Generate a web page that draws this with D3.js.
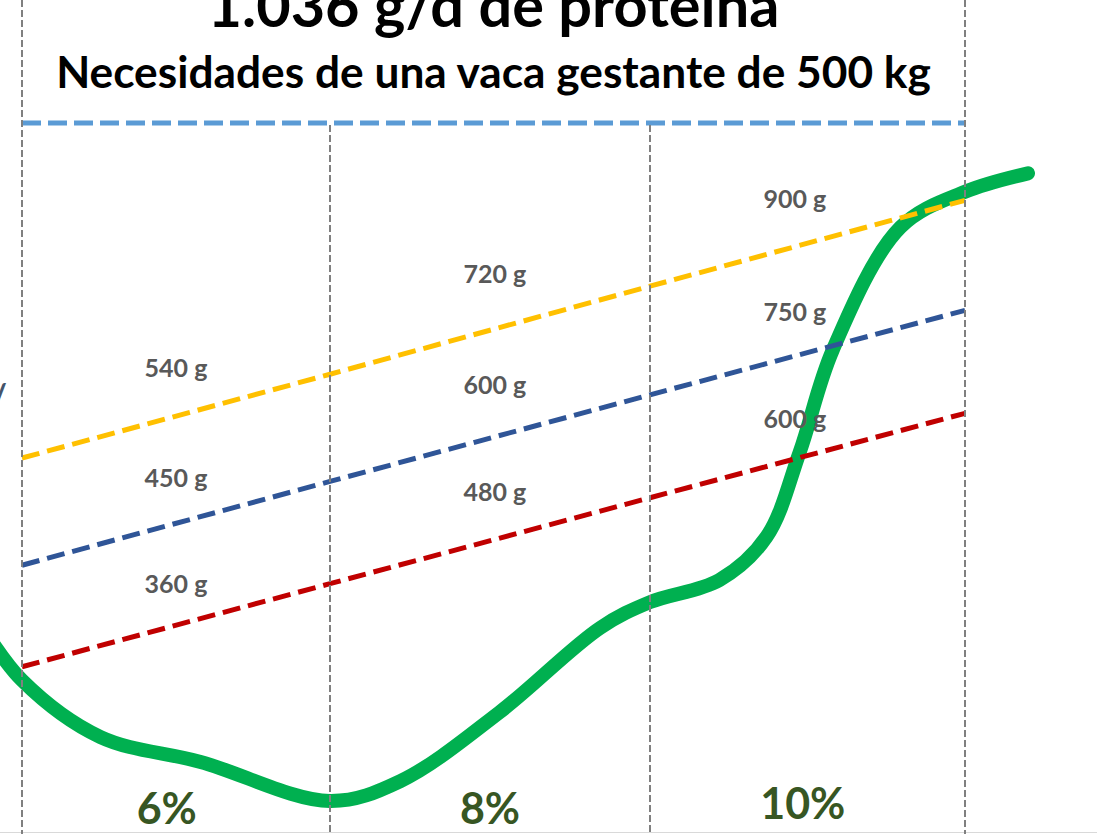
<!DOCTYPE html>
<html lang="es">
<head>
<meta charset="UTF-8">
<title>Necesidades de proteína</title>
<script src="https://d3js.org/d3.v7.min.js"></script>
<style>
  html, body { margin: 0; padding: 0; background: #fff; }
  svg { display: block; font-family: Lato, "Open Sans", sans-serif; }
</style>
</head>
<body>
<div id="chart"></div>
<script>
// protein % bands (boundaries) and their labels
var pctBounds = [5, 7, 9, 11];
var pctMid = [5.94, 8.0, 9.97];
var pctLabels = ["6%", "8%", "10%"];
var valueLabelPct = [6.0, 8.03, 9.92];

// requirement line (g/d)
var requirement = 1010;

// supply lines, g/d at each band boundary
var yellowVals = [538, 656, 780, 901];
var blueVals = [387, 505, 627, 746];
var redVals = [244, 361, 482, 601];
var yellowLabels = ["540 g", "720 g", "900 g"];
var blueLabels = ["450 g", "600 g", "750 g"];
var redLabels = ["360 g", "480 g", "600 g"];

// green curve
var curvePct = [4.73, 5.0, 5.51, 6.16, 7.0, 7.44, 8.06, 8.69, 9.0, 9.44, 9.74, 9.95, 10.16, 10.59, 11.0, 11.4];
var curveG = [304, 225, 145, 110, 55, 83, 180, 299, 335, 366, 427, 546, 690, 863, 913, 939];

var W = 1102, H = 834;

var svg = d3.select("#chart").append("svg")
    .attr("width", W)
    .attr("height", H);

var x = d3.scaleLinear().domain(pctBounds).range([22, 330, 650, 965]);
var y = d3.scaleLinear().domain([0, 1000]).range([840, 130]);

// bottom baseline
svg.append("line")
    .attr("x1", 0).attr("x2", 1097)
    .attr("y1", 832.5).attr("y2", 832.5)
    .style("stroke", "#d9d9d9")
    .style("stroke-width", 1);

// green curve
var line = d3.line()
    .x(function(d) { return x(d[0]); })
    .y(function(d) { return y(d[1]); })
    .curve(d3.curveCatmullRom.alpha(0.5));

svg.append("path")
    .datum(d3.zip(curvePct, curveG))
    .attr("d", line)
    .style("fill", "none")
    .style("stroke", "#00b050")
    .style("stroke-width", 14)
    .style("stroke-linecap", "round");

// supply lines
var series = [
    { vals: yellowVals, labels: yellowLabels, color: "#ffc000", lift: 3 },
    { vals: blueVals, labels: blueLabels, color: "#2f5597", lift: 0 },
    { vals: redVals, labels: redLabels, color: "#c00000", lift: -4 }
];
var colLift = [36, 44, 32];

var straight = d3.line()
    .x(function(d) { return x(d[0]); })
    .y(function(d) { return y(d[1]); });

series.forEach(function(s) {
    svg.append("path")
        .datum(d3.zip(pctBounds, s.vals))
        .attr("d", straight)
        .style("fill", "none")
        .style("stroke", s.color)
        .style("stroke-width", 5)
        .style("stroke-dasharray", "18,8");

    s.labels.forEach(function(t, i) {
        var mid = (s.vals[i] + s.vals[i + 1]) / 2;
        svg.append("text")
            .attr("x", x(valueLabelPct[i]))
            .attr("y", y(mid) - colLift[i] - s.lift)
            .attr("text-anchor", "middle")
            .style("font-size", "25px")
            .style("font-weight", "bold")
            .style("fill", "#595959")
            .text(t);
    });
});

// requirement line
svg.append("line")
    .attr("x1", x(pctBounds[0])).attr("x2", x(pctBounds[3]))
    .attr("y1", y(requirement)).attr("y2", y(requirement))
    .style("stroke", "#5b9bd5")
    .style("stroke-width", 5)
    .style("stroke-dasharray", "19,7");

// band boundaries
pctBounds.forEach(function(p, i) {
    var outer = (i === 0 || i === pctBounds.length - 1);
    svg.append("line")
        .attr("x1", x(p)).attr("x2", x(p))
        .attr("y1", outer ? 0 : y(requirement) + 2)
        .attr("y2", H)
        .style("stroke", "#808080")
        .style("stroke-width", 2)
        .style("stroke-dasharray", "7,3");
});

// band labels
pctLabels.forEach(function(t, i) {
    svg.append("text")
        .attr("x", x(pctMid[i]))
        .attr("y", i === 2 ? 819 : 824)
        .attr("text-anchor", "middle")
        .style("font-size", "43px")
        .style("font-weight", "bold")
        .style("fill", "#375623")
        .text(t);
});

// cut-off axis title fragment at left edge
svg.append("text")
    .attr("x", 7)
    .attr("y", 407)
    .attr("text-anchor", "end")
    .style("font-size", "32px")
    .style("font-weight", "bold")
    .style("fill", "#44546a")
    .text("/");

// titles, fitted to width
function fitText(txt, cx, baseline, width) {
    var t = svg.append("text")
        .attr("x", cx)
        .attr("y", baseline)
        .attr("text-anchor", "middle")
        .style("font-weight", "bold")
        .style("fill", "#000")
        .style("font-size", "40px")
        .text(txt);
    var w = t.node().getComputedTextLength();
    t.style("font-size", (40 * width / w) + "px");
}

var cx = (x(pctBounds[0]) + x(pctBounds[3])) / 2;
fitText("1.036 g/d de proteína", cx, 27, 572);
fitText("Necesidades de una vaca gestante de 500 kg", cx, 88, 875);
</script>
</body>
</html>
